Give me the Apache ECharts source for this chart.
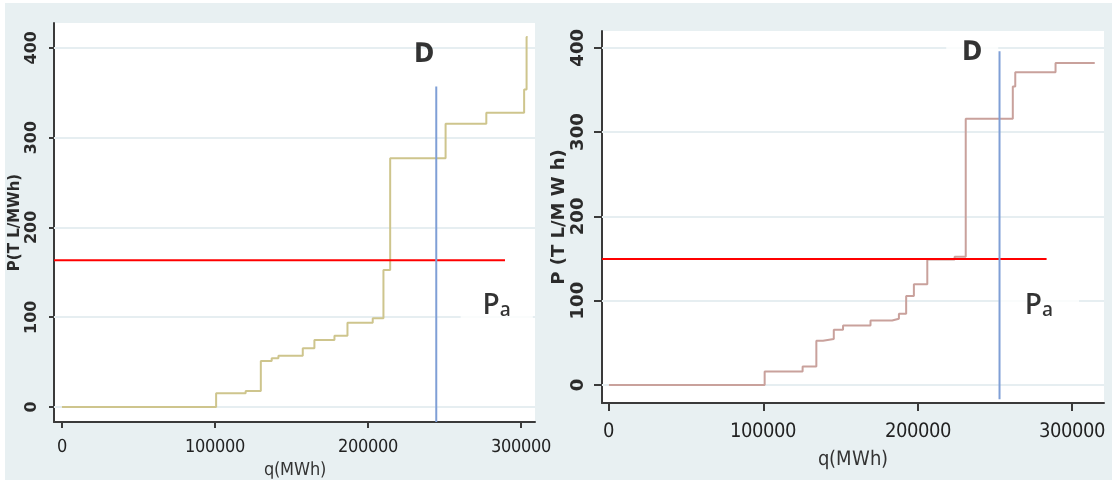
<!DOCTYPE html>
<html>
<head>
<meta charset="utf-8">
<script src="https://cdn.jsdelivr.net/npm/echarts@6/dist/echarts.min.js"></script>
<style>
  @font-face { font-family: 'NarrowX'; font-weight: 400;
    src: local('Noto Sans ExtraCondensed'), local('NotoSans-ExtraCondensed'),
         local('Noto Sans Condensed'), local('NotoSans-Condensed'),
         local('Liberation Sans Narrow'), local('LiberationSansNarrow-Regular'),
         local('DejaVu Sans Condensed'), local('DejaVuSansCondensed'); }
  @font-face { font-family: 'NarrowX'; font-weight: 700;
    src: local('Noto Sans ExtraCondensed Bold'), local('NotoSans-ExtraCondensedBold'),
         local('Noto Sans Condensed Bold'), local('NotoSans-CondensedBold'),
         local('Liberation Sans Narrow Bold'), local('LiberationSansNarrow-Bold'),
         local('DejaVu Sans Condensed Bold'), local('DejaVuSansCondensed-Bold'); }
  html, body { margin: 0; padding: 0; background: #ffffff; }
  #bg { position: absolute; left: 5px; top: 3px; width: 1107px; height: 477px; background: #e8f0f2; }
  #c { position: absolute; left: 0; top: 0; width: 1115px; height: 486px; }
</style>
</head>
<body>
<div id="bg"></div>
<div id="c"></div>
<script>
// ---------- data ----------
const xTicks = [0, 100000, 200000, 300000];
const yTicks = [0, 100, 200, 300, 400];

// left panel: supply steps (q where a price level starts, price level)
const leftQ = [0, 100700, 120000, 129900, 137000, 141400, 157300, 164900, 178000, 186500, 203000, 210000, 214400, 250600, 277200, 301900, 303500, 304200];
const leftP = [0, 15.2, 17.8, 51.2, 54.2, 57.1, 65.3, 74.6, 79.4, 93.9, 98.8, 152.6, 277, 315.4, 327.6, 353.6, 411.9, 411.9];
const leftPrice = 163.5;          // Pa
const leftPriceQ = [-5200, 289400];
const leftDemandQ = 244500;       // D
const leftDemandP = [357, -16.7];

// right panel
const rightQ = [0, 100900, 125500, 134400, 138700, 145700, 151700, 169500, 183500, 187900, 192600, 197600, 206300, 224000, 231200, 261700, 263300, 289400, 314800];
const rightP = [0, 15.9, 21.9, 52.5, 54.5, 65.3, 70.4, 76.4, 78.4, 84.4, 105.5, 119.4, 148.9, 152, 316, 354, 371, 382, 382];
const rightPrice = 149.5;
const rightPriceQ = [-4500, 283600];
const rightDemandQ = 253100;
const rightDemandP = [396, -17];

// annotation anchors [q, p]
const leftLabelD = [236300, 392];
const leftLabelPa = [284000, 112];
const rightLabelD = [235400, 394];
const rightLabelPa = [278600, 93];

// ---------- helpers ----------
const pairs = (qs, ps) => qs.map((q, i) => [q, ps[i]]);
const narrow = "NarrowX, 'Noto Sans', sans-serif";
const axisColor = '#3a3a3a';
const gridColor = '#e6eef1';
const plain = v => String(v);

function xAxisDef(gi, min, max, labelSize, margin, nameGap, tickLen) {
  return {
    gridIndex: gi, type: 'value', min: min, max: max,
    axisLine: { show: true, onZero: false, lineStyle: { color: axisColor, width: 2 } },
    axisTick: { show: true, customValues: xTicks, length: tickLen, lineStyle: { color: axisColor, width: 2 } },
    axisLabel: { show: true, customValues: xTicks, formatter: plain, margin: margin, color: '#222',
      fontFamily: narrow, fontSize: labelSize },
    splitLine: { show: false },
    name: 'q(MWh)', nameLocation: 'middle', nameGap: nameGap,
    nameTextStyle: { color: '#333', fontFamily: narrow, fontSize: labelSize }
  };
}
function yAxisDef(gi, min, max, labelSize, margin, name, nameGap, nameSize, tickLen) {
  return {
    gridIndex: gi, type: 'value', min: min, max: max,
    axisLine: { show: true, onZero: false, lineStyle: { color: axisColor, width: 2 } },
    axisTick: { show: true, customValues: yTicks, length: tickLen, lineStyle: { color: axisColor, width: 2 } },
    axisLabel: { show: true, customValues: yTicks, formatter: plain, rotate: 90, margin: margin, color: '#2b2b2b',
      fontFamily: "'DejaVu Sans', sans-serif", fontWeight: 'bold', fontSize: labelSize },
    splitLine: { show: false },
    name: name, nameLocation: 'middle', nameRotate: 90, nameGap: nameGap,
    nameTextStyle: { color: '#2b2b2b', fontFamily: "'DejaVu Sans', sans-serif", fontWeight: 'bold', fontSize: nameSize }
  };
}
function gridLines(xi, yi) {
  return {
    type: 'line', xAxisIndex: xi, yAxisIndex: yi, data: [], silent: true, z: 1,
    markLine: { silent: true, symbol: 'none', z: 1, label: { show: false },
      lineStyle: { color: gridColor, width: 2, type: 'solid' },
      data: yTicks.map(v => ({ yAxis: v })) }
  };
}
function labelSeries(xi, yi, dPos, paPos, dBox, paBox) {
  return {
    type: 'scatter', xAxisIndex: xi, yAxisIndex: yi, symbolSize: 0, silent: true, z: 2,
    data: [
      { value: dPos, label: { show: true, position: 'inside', formatter: 'D',
          color: '#000', fontFamily: narrow, fontWeight: 'bold', fontSize: 27,
          backgroundColor: dBox ? '#ffffff' : 'transparent', padding: dBox ? [16, 16, 0, 16] : 0 } },
      { value: paPos, label: { show: true, position: 'inside', formatter: '{p|P}{a|a}',
          backgroundColor: '#ffffff', padding: paBox,
          rich: {
            p: { fontFamily: "'Open Sans', sans-serif", fontWeight: 600, fontSize: 28, color: '#000', lineHeight: 30, verticalAlign: 'bottom' },
            a: { fontFamily: "'Open Sans', sans-serif", fontWeight: 600, fontSize: 19, color: '#000', lineHeight: 22, verticalAlign: 'bottom' }
          } } }
    ]
  };
}
function stepSeries(xi, yi, data, color) {
  return { type: 'line', xAxisIndex: xi, yAxisIndex: yi, step: 'end', data: data,
    showSymbol: false, symbol: 'none', silent: true, z: 3,
    lineStyle: { color: color, width: 2 } };
}
function hLine(xi, yi, qs, p) {
  return { type: 'line', xAxisIndex: xi, yAxisIndex: yi, data: qs.map(q => [q, p]),
    showSymbol: false, symbol: 'none', silent: true, z: 4,
    lineStyle: { color: '#ff0000', width: 2 } };
}
function vLine(xi, yi, q, ps) {
  return { type: 'line', xAxisIndex: xi, yAxisIndex: yi, data: ps.map(p => [q, p]),
    showSymbol: false, symbol: 'none', silent: true, z: 5,
    lineStyle: { color: '#7f9fd6', width: 2 } };
}

function draw() {
  const chart = echarts.init(document.getElementById('c'), null, { renderer: 'canvas' });
  chart.setOption({
    animation: false,
    backgroundColor: 'transparent',
    grid: [
      { left: 54, top: 23, width: 481, height: 399, show: true, backgroundColor: '#ffffff', borderWidth: 0, containLabel: false },
      { left: 602, top: 31, width: 502, height: 372, show: true, backgroundColor: '#ffffff', borderWidth: 0, containLabel: false }
    ],
    xAxis: [
      xAxisDef(0, -5200, 309000, 18, 16, 38, 6),
      xAxisDef(1, -4500, 320800, 20, 19, 47, 8)
    ],
    yAxis: [
      yAxisDef(0, -16.7, 427.6, 16, 14, 'P(T L/MWh)', 26, 15, 5),
      yAxisDef(1, -21.5, 420, 18, 15, 'P (T L/M W h)', 16, 18, 8)
    ],
    series: [
      gridLines(0, 0),
      gridLines(1, 1),
      stepSeries(0, 0, pairs(leftQ, leftP), '#cec58d'),
      stepSeries(1, 1, pairs(rightQ, rightP), '#c9a19c'),
      hLine(0, 0, leftPriceQ, leftPrice),
      hLine(1, 1, rightPriceQ, rightPrice),
      vLine(0, 0, leftDemandQ, leftDemandP),
      vLine(1, 1, rightDemandQ, rightDemandP),
      labelSeries(0, 0, leftLabelD, leftLabelPa, false, [2, 22, 4, 22]),
      labelSeries(1, 1, rightLabelD, rightLabelPa, true, [2, 26, 4, 26])
    ]
  });
}
Promise.all([
  document.fonts.load('18px NarrowX'),
  document.fonts.load('bold 27px NarrowX'),
  document.fonts.load('600 28px "Open Sans"')
]).then(draw, draw);
</script>
</body>
</html>
